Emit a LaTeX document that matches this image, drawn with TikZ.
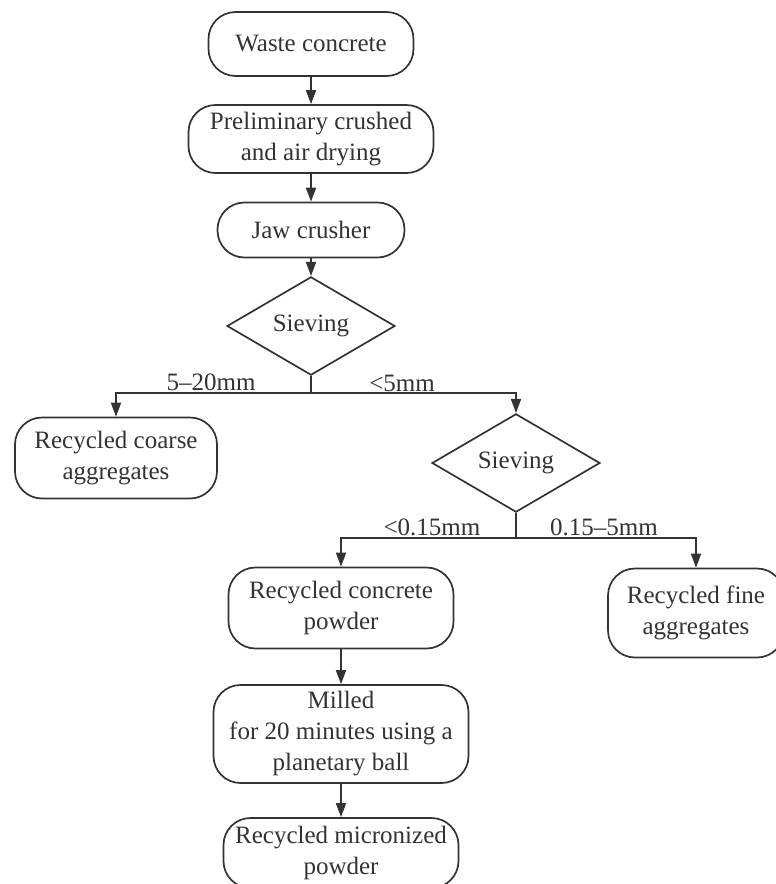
\documentclass[tikz,border=0pt]{standalone}
\usepackage{fontspec}
\setmainfont{Liberation Serif}
\usetikzlibrary{shapes.geometric,arrows.meta}
\definecolor{ink}{HTML}{333333}
\begin{document}
\begin{tikzpicture}
        [x=1pt, y=-1pt,
        box/.style={draw=ink, line width=1.7pt, rounded corners=27pt, align=center, inner sep=0pt, text=ink, font=\fontsize{25}{31}\selectfont},
        sieve/.style={diamond, draw=ink, line width=1.7pt, inner sep=0pt, text=ink, font=\fontsize{25}{31}\selectfont},
        lbl/.style={text=ink, inner sep=0pt, font=\fontsize{25}{31}\selectfont},
        flow/.style={draw=ink, line width=1.7pt, -{Triangle[length=14pt,width=10pt]}},
        link/.style={draw=ink, line width=1.7pt}]

        \useasboundingbox (0,0) rectangle (776,884);

        \node[box, minimum width=205pt, minimum height=64pt] (waste) at (311,44) {Waste concrete};
        \node[box, minimum width=245pt, minimum height=68pt] (prelim) at (311,139) {Preliminary crushed\\and air drying};
        \node[box, minimum width=187pt, minimum height=55pt] (jaw) at (311,230) {Jaw crusher};
        \node[sieve, minimum width=168pt, minimum height=82pt] (sieveA) at (311,326) {Sieving};
        \node[box, minimum width=202pt, minimum height=81pt] (coarse) at (116,458) {Recycled coarse\\aggregates};
        \node[sieve, minimum width=168pt, minimum height=88pt] (sieveB) at (516,463) {Sieving};
        \node[box, minimum width=225pt, minimum height=81pt] (powder) at (341,608) {Recycled concrete\\powder};
        \node[box, minimum width=176pt, minimum height=89pt] (fine) at (696,613) {Recycled fine\\aggregates};
        \node[box, minimum width=255pt, minimum height=98pt] (milled) at (341,734) {Milled\\for 20 minutes using a\\planetary ball};
        \node[box, minimum width=235pt, minimum height=70pt] (micro) at (341,853) {Recycled micronized\\powder};

        % branch points under the diamonds
        \coordinate (forkA) at (311,393);
        \coordinate (forkB) at (516,538);

        % Labels for the branches
        \node[lbl] (coarseSize) at (211,382) {5--20mm};
        \node[lbl] (smallSize) at (402,383) {<5mm};
        \node[lbl] (powderSize) at (432,527) {<0.15mm};
        \node[lbl] (fineSize) at (604,527) {0.15--5mm};

        % main line
        \draw[flow] (waste) -- (prelim);
        \draw[flow] (prelim) -- (jaw);
        \draw[flow] (jaw) -- (sieveA);
        \draw[link] (sieveA.south) -- (forkA);
        \draw[flow] (forkA) -| (coarse.north);
        \draw[flow] (forkA) -| (sieveB.north);

        % second sieving
        \draw[link] (sieveB.south) -- (forkB);
        \draw[flow] (forkB) -| (powder.north);
        \draw[flow] (forkB) -| (fine.north);
        \draw[flow] (powder) -- (milled);
        \draw[flow] (milled) -- (micro);

\end{tikzpicture}
\end{document}
